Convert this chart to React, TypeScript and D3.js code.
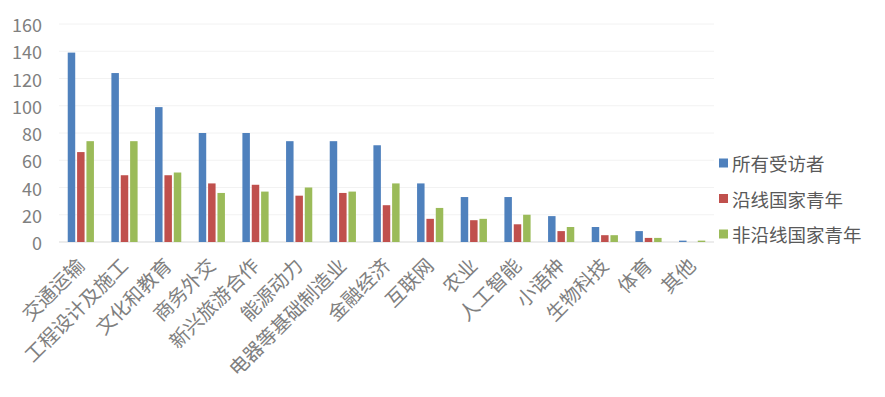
import { useEffect, useRef } from 'react'
import * as d3 from 'd3'

const categories = ['交通运输', '工程设计及施工', '文化和教育', '商务外交', '新兴旅游合作', '能源动力', '电器等基础制造业', '金融经济', '互联网', '农业', '人工智能', '小语种', '生物科技', '体育', '其他']
const seriesNames = ['所有受访者', '沿线国家青年', '非沿线国家青年']
const allRespondents = [139, 124, 99, 80, 80, 74, 74, 71, 43, 33, 33, 19, 11, 8, 1]
const alongRouteYouth = [66, 49, 49, 43, 42, 34, 36, 27, 17, 16, 13, 8, 5, 3, 0]
const nonRouteYouth = [74, 74, 51, 36, 37, 40, 37, 43, 25, 17, 20, 11, 5, 3, 1]
const yTicks = [0, 20, 40, 60, 80, 100, 120, 140, 160]
const colors = ['#4f81bd', '#c0504d', '#9bbb59']

const W = 885
const H = 397

export default function App() {
  const ref = useRef<SVGSVGElement | null>(null)

  useEffect(() => {
    const svg = d3.select(ref.current)
    svg.selectAll('*').remove()
    const font = '"Noto Sans CJK SC", "Noto Sans", sans-serif'
    const left = 59
    const right = 714
    const top = 24
    const bottom = 242

    const y = d3.scaleLinear().domain([0, 160]).range([bottom, top])
    const x = d3.scaleBand<string>().domain(categories).range([left, right]).paddingInner(0.4).paddingOuter(0.2)
    const sub = d3.scaleBand<number>().domain([0, 1, 2]).range([0, x.bandwidth()]).paddingInner(0.2)

    svg.append('rect').attr('width', W).attr('height', H).attr('fill', '#fff')

    // gridlines + y tick labels
    yTicks.forEach((t) => {
      svg.append('line')
        .attr('x1', left).attr('x2', right)
        .attr('y1', y(t)).attr('y2', y(t))
        .attr('stroke', t === 0 ? '#d9d9d9' : '#f2f2f2')
        .attr('stroke-width', 1)
      svg.append('text')
        .attr('x', 42).attr('y', y(t))
        .attr('text-anchor', 'end')
        .attr('dominant-baseline', 'central')
        .attr('fill', '#808080')
        .style('font-family', font)
        .style('font-size', '18px')
        .text(t)
    })

    const data = [allRespondents, alongRouteYouth, nonRouteYouth]
    data.forEach((vals, s) => {
      svg.append('g').selectAll('rect').data(vals).enter().append('rect')
        .attr('x', (_d, i) => (x(categories[i]) ?? 0) + (sub(s) ?? 0))
        .attr('y', (d) => y(d))
        .attr('width', sub.bandwidth())
        .attr('height', (d) => bottom - y(d))
        .attr('fill', colors[s])
    })

    // x labels, rotated
    categories.forEach((c) => {
      const cx = (x(c) ?? 0) + x.bandwidth() / 2 + 5
      svg.append('text')
        .attr('transform', `translate(${cx},${bottom + 25}) rotate(-45)`)
        .attr('text-anchor', 'end')
        .attr('fill', '#808080')
        .style('font-family', font)
        .style('font-size', '19.5px')
        .text(c)
    })

    // legend
    seriesNames.forEach((n, i) => {
      const ly = 163 + i * 35.5
      svg.append('rect').attr('x', 719).attr('y', ly - 4.5).attr('width', 9).attr('height', 9).attr('fill', colors[i])
      svg.append('text')
        .attr('x', 732).attr('y', ly)
        .attr('dominant-baseline', 'central')
        .attr('fill', '#595959')
        .style('font-family', font)
        .style('font-size', '18.5px')
        .text(n)
    })
  }, [])

  return <svg ref={ref} width={W} height={H} style={{ position: 'absolute', left: 0, top: 0 }} />
}
